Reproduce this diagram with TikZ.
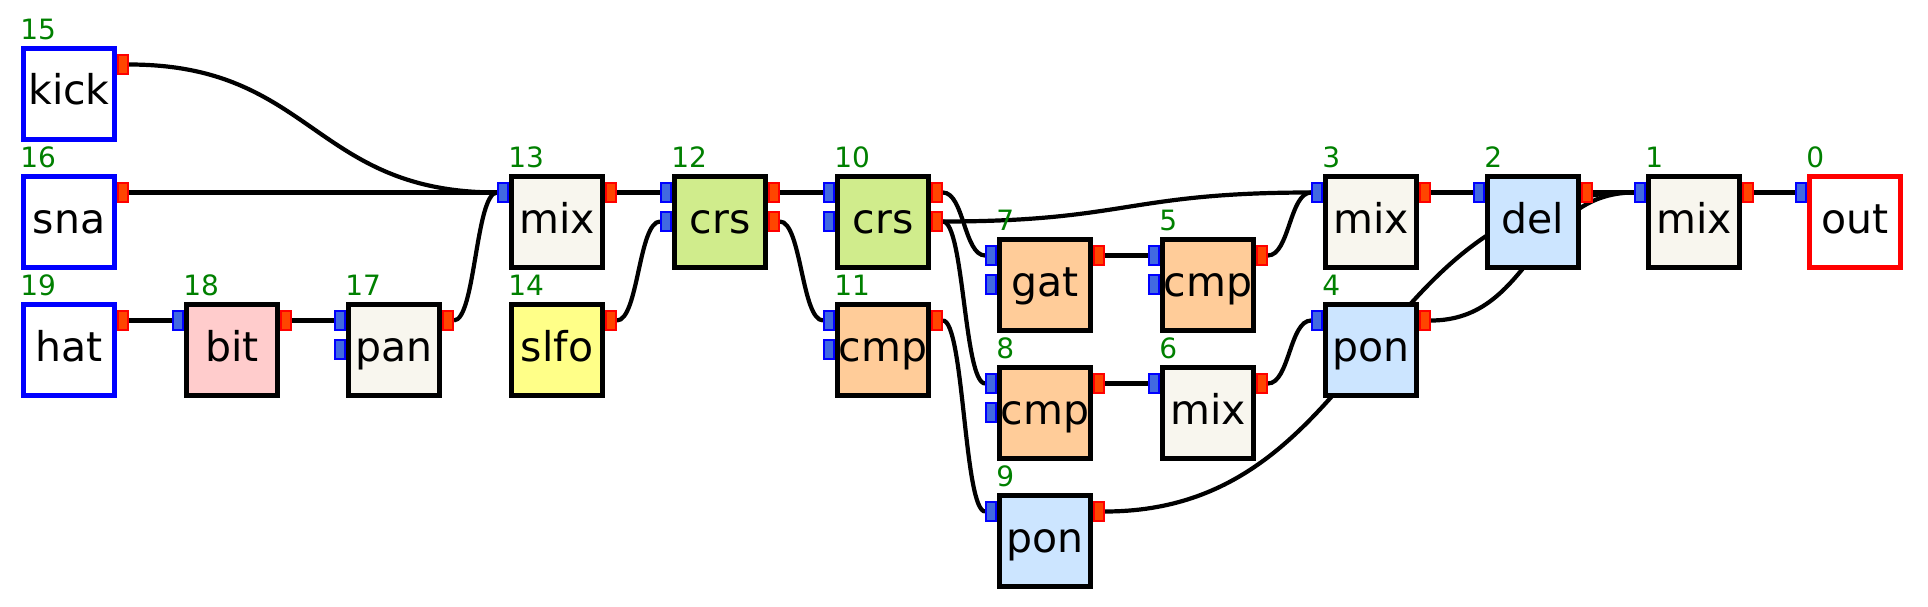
\documentclass[tikz,border=0pt]{standalone}
\usepackage{fontspec}
\setmainfont{DejaVu Sans}
\usetikzlibrary{calc}
\pgfdeclarelayer{bg}
\pgfsetlayers{bg,main}
\definecolor{mixc}{RGB}{248,246,238}
\definecolor{bitc}{RGB}{255,204,204}
\definecolor{crsc}{RGB}{208,236,140}
\definecolor{lfoc}{RGB}{255,255,136}
\definecolor{cmpc}{RGB}{255,204,153}
\definecolor{ponc}{RGB}{204,229,255}
\definecolor{numc}{RGB}{0,128,0}
\definecolor{inb}{RGB}{0,0,255}
\definecolor{inf}{RGB}{65,105,225}
\definecolor{outb}{RGB}{255,0,0}
\definecolor{outf}{RGB}{255,69,0}
\tikzset{
  box/.style={draw=black, line width=5pt, minimum width=91.3pt, minimum height=91.3pt,
    inner sep=0pt, text height=29pt, text depth=7pt, font=\fontsize{41}{41}\selectfont},
  srcbox/.style={box, draw=inb, fill=white},
  sinkbox/.style={box, draw=outb, fill=white},
  mixbox/.style={box, fill=mixc},
  bitbox/.style={box, fill=bitc},
  crsbox/.style={box, fill=crsc},
  lfobox/.style={box, fill=lfoc},
  cmpbox/.style={box, fill=cmpc},
  ponbox/.style={box, fill=ponc},
  inport/.style={draw=inb, fill=inf, line width=2.3pt, minimum width=9.4pt, minimum height=18.4pt, inner sep=0pt},
  outport/.style={draw=outb, fill=outf, line width=2.3pt, minimum width=9.4pt, minimum height=18.4pt, inner sep=0pt},
  numlbl/.style={anchor=base west, inner sep=0pt, text=numc, font=\fontsize{28}{28}\selectfont},
  wire/.style={line width=4.2pt, black}
}
\newcommand\blk[8]{%
  \node[#6] (#1) at ({#2+48},{#3+48}) {#4};
  \node[numlbl] (#1-num) at ({#2-0.8},{#3-6.5}) {#5};
  \ifnum#7>0 \node[inport] (#1-i1) at ({#2-6},{#3+18.5}) {};\fi
  \ifnum#7>1 \node[inport] (#1-i2) at ({#2-6},{#3+47.5}) {};\fi
  \ifnum#8>0 \node[outport] (#1-o1) at ({#2+102},{#3+18.5}) {};\fi
  \ifnum#8>1 \node[outport] (#1-o2) at ({#2+102},{#3+47.5}) {};\fi
}
\newcommand\wire[2]{\draw[wire] let \p1=(#1.east), \p2=(#2.west), \n1={(\x2-\x1)/2} in
  (\p1) .. controls +(\n1,0pt) and +(-\n1,0pt) .. (\p2);}
\begin{document}
\begin{tikzpicture}[x=1pt,y=-1pt]
\useasboundingbox (0,0) rectangle (1928,607);
\blk{n15}{21}{46}{kick}{15}{srcbox}{0}{1}
\blk{n16}{21}{174}{sna}{16}{srcbox}{0}{1}
\blk{n19}{21}{302}{hat}{19}{srcbox}{0}{1}
\blk{n18}{184}{302}{bit}{18}{bitbox}{1}{1}
\blk{n17}{346}{302}{pan}{17}{mixbox}{2}{1}
\blk{n13}{509}{174}{mix}{13}{mixbox}{1}{1}
\blk{n14}{509}{302}{slfo}{14}{lfobox}{0}{1}
\blk{n12}{672}{174}{crs}{12}{crsbox}{2}{2}
\blk{n10}{835}{174}{crs}{10}{crsbox}{2}{2}
\blk{n11}{835}{302}{cmp}{11}{cmpbox}{2}{1}
\blk{n7}{997}{237}{gat}{7}{cmpbox}{2}{1}
\blk{n8}{997}{365}{cmp}{8}{cmpbox}{2}{1}
\blk{n9}{997}{493}{pon}{9}{ponbox}{1}{1}
\blk{n5}{1160}{237}{cmp}{5}{cmpbox}{2}{1}
\blk{n6}{1160}{365}{mix}{6}{mixbox}{1}{1}
\blk{n3}{1323}{174}{mix}{3}{mixbox}{1}{1}
\blk{n4}{1323}{302}{pon}{4}{ponbox}{1}{1}
\blk{n2}{1485}{174}{del}{2}{ponbox}{1}{1}
\blk{n1}{1646}{174}{mix}{1}{mixbox}{1}{1}
\blk{n0}{1807}{174}{out}{0}{sinkbox}{1}{0}
\begin{pgfonlayer}{bg}
\wire{n15-o1}{n13-i1}
\wire{n16-o1}{n13-i1}
\wire{n17-o1}{n13-i1}
\wire{n19-o1}{n18-i1}
\wire{n18-o1}{n17-i1}
\wire{n13-o1}{n12-i1}
\wire{n14-o1}{n12-i2}
\wire{n12-o1}{n10-i1}
\wire{n12-o2}{n11-i1}
\wire{n10-o1}{n7-i1}
\wire{n10-o2}{n3-i1}
\wire{n10-o2}{n8-i1}
\wire{n11-o1}{n9-i1}
\wire{n7-o1}{n5-i1}
\wire{n5-o1}{n3-i1}
\wire{n8-o1}{n6-i1}
\wire{n6-o1}{n4-i1}
\wire{n3-o1}{n2-i1}
\wire{n4-o1}{n1-i1}
\wire{n9-o1}{n1-i1}
\wire{n2-o1}{n1-i1}
\wire{n1-o1}{n0-i1}
\end{pgfonlayer}
\end{tikzpicture}
\end{document}
